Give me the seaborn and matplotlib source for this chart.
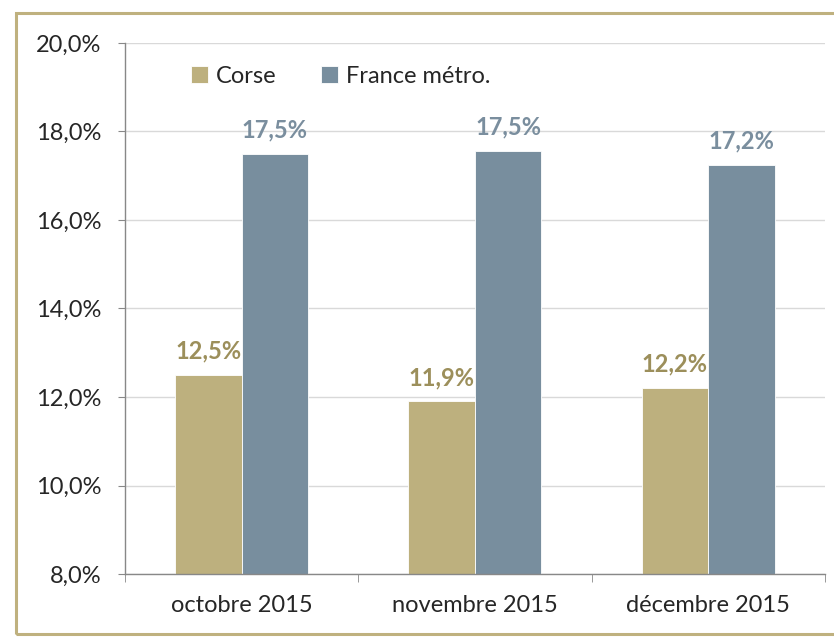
import pandas as pd
import seaborn as sns
import matplotlib.pyplot as plt
from matplotlib.patches import Rectangle
from matplotlib.ticker import FuncFormatter

mois = ['octobre 2015', 'novembre 2015', 'décembre 2015']
corse = [12.5, 11.9, 12.2]
france = [17.5, 17.55, 17.24]
labels_corse = ['12,5%', '11,9%', '12,2%']
labels_france = ['17,5%', '17,5%', '17,2%']
zones = ['Corse', 'France métro.']
couleurs = ['#BDB07E', '#788E9E']
couleurs_txt = ['#9C8F5B', '#7A8E9E']

df = pd.DataFrame({
    'mois': mois * 2,
    'zone': [zones[0]] * 3 + [zones[1]] * 3,
    'taux': corse + france,
})

sns.set_style('white')
plt.rcParams['font.family'] = ['Lato', 'DejaVu Sans']

fig = plt.figure(figsize=(8.34, 6.4), dpi=100)
ax = fig.add_axes([0.1499, 0.103, 0.839, 0.83])

sns.barplot(data=df, x='mois', y='taux', hue='zone', palette=couleurs,
            width=0.57, gap=0, edgecolor='white', linewidth=0.6, ax=ax,
            saturation=1)

ax.set_ylim(8, 20)
ax.set_yticks(range(8, 21, 2))
ax.yaxis.set_major_formatter(FuncFormatter(lambda v, p: f'{v:.1f}'.replace('.', ',') + '%'))
ax.grid(axis='y', color='#d9d9d9', linewidth=1)
ax.set_axisbelow(True)
ax.set_xlabel('')
ax.set_ylabel('')

for s in ['top', 'right']:
    ax.spines[s].set_visible(False)
for s in ['left', 'bottom']:
    ax.spines[s].set_color('#888888')
    ax.spines[s].set_linewidth(1)

ax.set_xlim(-0.5, 2.5)
ax.set_xticks([-0.5, 0.5, 1.5, 2.5], minor=True)
ax.tick_params(axis='x', which='major', length=0, labelsize=17, pad=15)
ax.tick_params(axis='x', which='minor', length=6, color='#888888', direction='out', bottom=True)
ax.tick_params(axis='y', length=5, color='#888888', direction='out', left=True, labelsize=17, pad=12)

for cont, labs, c in zip(ax.containers, [labels_corse, labels_france], couleurs_txt):
    ax.bar_label(cont, labels=labs, padding=9, color=c, fontsize=17, fontweight='bold')

ax.legend(loc='upper left', bbox_to_anchor=(0.081, 0.975), ncol=2, frameon=False,
          fontsize=17, handlelength=0.7, handleheight=0.7, handletextpad=0.35,
          columnspacing=1.9, borderaxespad=0)

fig.patches.append(Rectangle((16 / 834, 6 / 640), 1.0, 621 / 640, transform=fig.transFigure,
                             fill=False, edgecolor='#BFB17F', linewidth=2.2, figure=fig))

fig.savefig('out.png', dpi=100)
